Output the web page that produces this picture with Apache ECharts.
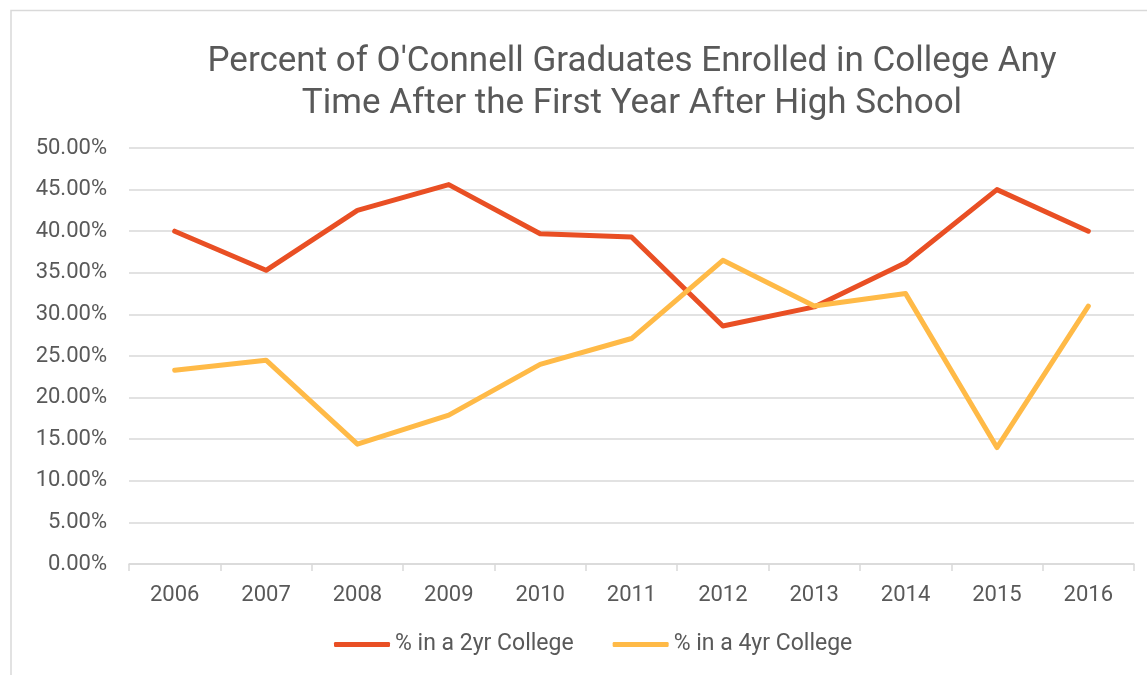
<!DOCTYPE html>
<html>
<head>
<meta charset="utf-8">
<script src="https://cdn.jsdelivr.net/npm/echarts@6/dist/echarts.min.js"></script>
<style>
  html, body { margin: 0; padding: 0; background: #fff; }
  #main { width: 1147px; height: 675px; }
</style>
</head>
<body>
<div id="main"></div>
<script>
const years = ['2006', '2007', '2008', '2009', '2010', '2011', '2012', '2013', '2014', '2015', '2016'];
const twoYear = [40.0, 35.3, 42.5, 45.6, 39.7, 39.3, 28.6, 30.9, 36.2, 45.0, 40.0];
const fourYear = [23.3, 24.5, 14.4, 17.9, 24.0, 27.1, 36.5, 31.0, 32.5, 14.0, 31.0];
const seriesNames = ['% in a 2yr College', '% in a 4yr College'];

const textColor = '#595959';
const font = 'Roboto';

const chart = echarts.init(document.getElementById('main'));
chart.setOption({
  animation: false,
  color: ['#e94f24', '#ffba47'],
  title: {
    text: "Percent of O'Connell Graduates Enrolled in College Any\nTime After the First Year After High School",
    left: 627,
    top: 36,
    textAlign: 'center',
    textStyle: {
      fontFamily: font,
      fontWeight: 'normal',
      fontSize: 35,
      lineHeight: 42,
      color: textColor
    }
  },
  graphic: [{
    type: 'rect',
    shape: { x: 11, y: 10.5, width: 1300, height: 800 },
    style: { fill: 'none', stroke: '#d9d9d9', lineWidth: 1.5 },
    silent: true
  }],
  legend: {
    bottom: 14,
    left: 329,
    itemWidth: 56,
    itemHeight: 5,
    itemGap: 39,
    icon: 'roundRect',
    textStyle: { fontFamily: font, fontSize: 23, color: textColor },
    data: seriesNames
  },
  grid: { left: 129, right: 13, top: 148, bottom: 111 },
  xAxis: {
    type: 'category',
    data: years,
    boundaryGap: true,
    axisLine: { lineStyle: { color: '#d9d9d9', width: 1.5 } },
    axisTick: { show: true, length: 7, alignWithLabel: false, lineStyle: { color: '#d9d9d9', width: 1.5 } },
    axisLabel: { fontFamily: font, fontSize: 22, color: textColor, margin: 20 }
  },
  yAxis: {
    type: 'value',
    min: 0,
    max: 50,
    interval: 5,
    axisLine: { show: false },
    axisTick: { show: false },
    splitLine: { lineStyle: { color: '#d9d9d9', width: 1.5 } },
    axisLabel: {
      fontFamily: font, fontSize: 22, color: textColor, margin: 22,
      formatter: v => v.toFixed(2) + '%'
    }
  },
  series: [
    {
      name: seriesNames[0], type: 'line', data: twoYear,
      symbol: 'none', lineStyle: { width: 5, cap: 'round', join: 'round' }
    },
    {
      name: seriesNames[1], type: 'line', data: fourYear,
      symbol: 'none', lineStyle: { width: 5, cap: 'round', join: 'round' }
    }
  ]
});
</script>
</body>
</html>
